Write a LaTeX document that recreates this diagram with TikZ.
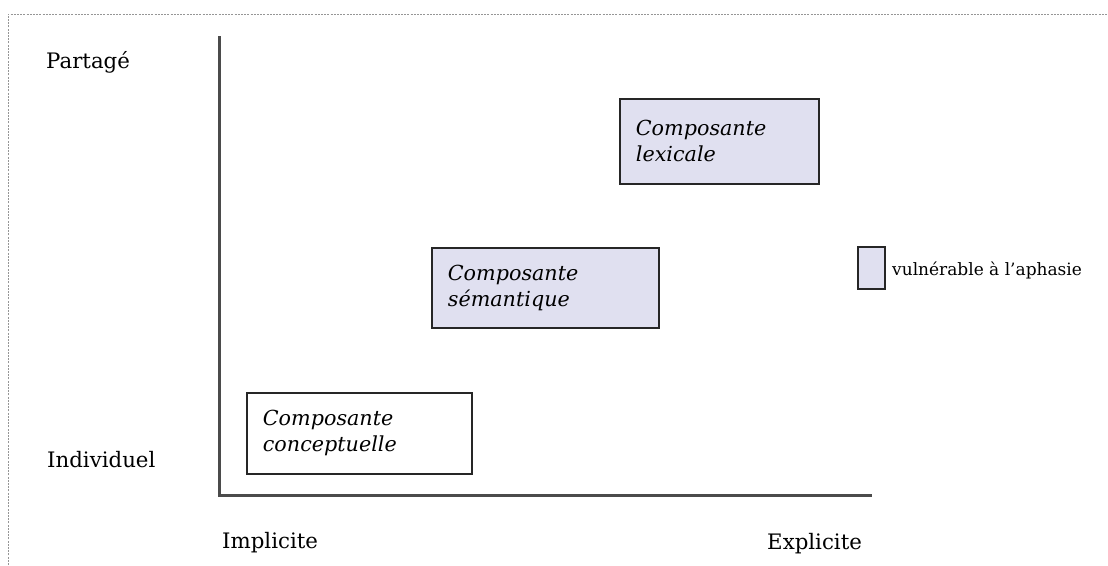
\documentclass[tikz,border=0pt]{standalone}
\usepackage{fontspec}
\setmainfont{DejaVu Serif}
\definecolor{vuln}{RGB}{224,224,240}
\definecolor{axisgray}{RGB}{75,75,75}
\definecolor{framegray}{RGB}{150,150,150}
\tikzset{
  axisline/.style={draw=axisgray, line width=3pt},
  frameline/.style={draw=framegray, line width=0.9pt, dash pattern=on 2pt off 1.2pt},
  axislabel/.style={anchor=base west, inner sep=0pt, font=\fontsize{21.3}{25}\selectfont},
  compbox/.style={draw=black!85, line width=1.8pt, anchor=north west, align=left,
    inner xsep=16pt, inner ysep=0pt, font=\fontsize{20.7}{26}\selectfont\itshape},
  vulnerable/.style={compbox, fill=vuln},
  legendtext/.style={anchor=base west, inner sep=0pt, font=\fontsize{17}{20}\selectfont},
}
\begin{document}
\begin{tikzpicture}[x=1pt, y=-1pt]
  \useasboundingbox (0,0) rectangle (1108,565);
  % dotted page frame (top and left edges)
  \coordinate (fl) at (8,565);
  \coordinate (fc) at (8,14);
  \coordinate (fr) at (1108,14);
  \draw[frameline] (fl) -- (fc) -- (fr);
  % axes
  \coordinate (ytop) at (219,36);
  \coordinate (origin) at (219,495);
  \coordinate (xend) at (872,495);
  \draw[axisline] (ytop) -- (origin) -- (xend);
  % axis labels
  \node[axislabel] (partage) at (46,68) {Partagé};
  \node[axislabel] (individuel) at (47,467) {Individuel};
  \node[axislabel] (implicite) at (222,548) {Implicite};
  \node[axislabel] (explicite) at (767,549) {Explicite};
  % components
  \node[vulnerable, text width=167pt, minimum height=85pt] (lexicale) at (619,98)
    {Composante\\lexicale};
  \node[vulnerable, text width=195pt, minimum height=80pt] (semantique) at (431,247)
    {Composante\\sémantique};
  \node[compbox, fill=white, text width=193pt, minimum height=81pt] (conceptuelle) at (246,392)
    {Composante\\conceptuelle};
  % legend
  \node[draw=black!85, line width=1.8pt, fill=vuln, anchor=north west,
    minimum width=27pt, minimum height=42pt, inner sep=0pt] (legendbox) at (857,246) {};
  \node[legendtext] (legendlabel) at (892,275) {vulnérable à l’aphasie};
\end{tikzpicture}
\end{document}
